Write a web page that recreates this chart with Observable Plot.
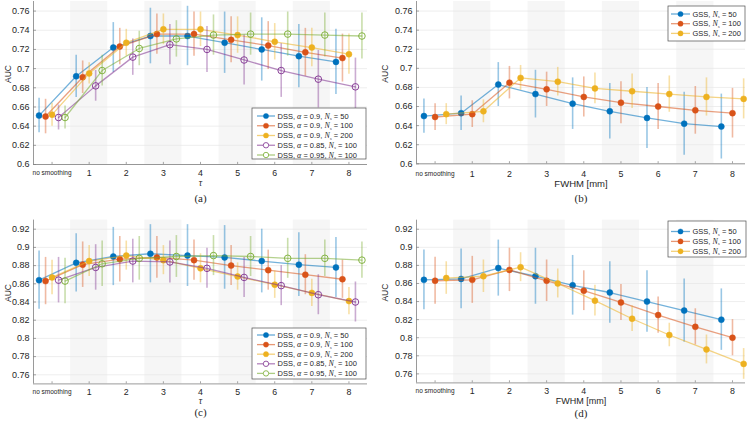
<!DOCTYPE html>
<html>
<head>
<meta charset="utf-8">
<script src="https://cdn.jsdelivr.net/npm/d3@7"></script>
<script src="https://cdn.jsdelivr.net/npm/@observablehq/plot@0.6"></script>
<style>
  body { margin: 0; background: #fff; }
  #fig { position: relative; width: 750px; height: 424px; overflow: hidden; background: #fff; }
</style>
</head>
<body>
<div id="fig"></div>
<script>
// ---------- data ----------
const xTicks = [0, 1, 2, 3, 4, 5, 6, 7, 8];
const xTickLabels = ["no smoothing", "1", "2", "3", "4", "5", "6", "7", "8"];
const shadedTicks = [1, 3, 5, 7];
const yTicksTop = [0.6, 0.62, 0.64, 0.66, 0.68, 0.7, 0.72, 0.74, 0.76];
const yTicksBottom = [0.76, 0.78, 0.8, 0.82, 0.84, 0.86, 0.88, 0.9, 0.92];

const dssAlpha = ["0.9", "0.9", "0.9", "0.85", "0.95"];
const dssN = ["50", "100", "200", "100", "100"];
const gssN = ["50", "100", "200"];

// (a) DSS, top row
const aBlue = [0.651, 0.692, 0.722, 0.734, 0.734, 0.727, 0.720, 0.713, 0.707];
const aBlueErr = [0.018, 0.022, 0.026, 0.029, 0.031, 0.032, 0.033, 0.033, 0.034];
const aRed = [0.650, 0.691, 0.723, 0.736, 0.736, 0.730, 0.724, 0.717, 0.711];
const aRedErr = [0.018, 0.017, 0.019, 0.021, 0.023, 0.024, 0.025, 0.025, 0.025];
const aYellow = [0.652, 0.695, 0.727, 0.741, 0.741, 0.735, 0.728, 0.722, 0.715];
const aYellowErr = [0.012, 0.011, 0.014, 0.016, 0.018, 0.019, 0.019, 0.020, 0.021];
const aPurple = [0.649, 0.682, 0.712, 0.725, 0.720, 0.709, 0.698, 0.689, 0.681];
const aPurpleErr = [0.013, 0.016, 0.019, 0.021, 0.024, 0.026, 0.028, 0.030, 0.030];
const aGreen = [0.649, 0.698, 0.721, 0.731, 0.735, 0.736, 0.736, 0.735, 0.734];
const aGreenErr = [0.012, 0.016, 0.018, 0.019, 0.021, 0.022, 0.023, 0.023, 0.024];

// (b) GSS, top row
const bBlue = [0.650, 0.653, 0.683, 0.673, 0.663, 0.655, 0.648, 0.642, 0.639];
const bBlueErr = [0.018, 0.018, 0.023, 0.025, 0.027, 0.029, 0.032, 0.033, 0.034];
const bRed = [0.649, 0.652, 0.685, 0.678, 0.670, 0.664, 0.660, 0.656, 0.653];
const bRedErr = [0.014, 0.014, 0.017, 0.018, 0.021, 0.022, 0.024, 0.025, 0.026];
const bYellow = [0.652, 0.655, 0.690, 0.686, 0.679, 0.676, 0.673, 0.670, 0.668];
const bYellowErr = [0.011, 0.012, 0.013, 0.015, 0.016, 0.018, 0.019, 0.020, 0.021];

// (c) DSS, bottom row
const cBlue = [0.864, 0.883, 0.890, 0.893, 0.891, 0.889, 0.885, 0.881, 0.878];
const cBlueErr = [0.032, 0.032, 0.032, 0.032, 0.034, 0.035, 0.035, 0.035, 0.033];
const cRed = [0.863, 0.881, 0.887, 0.889, 0.886, 0.880, 0.875, 0.870, 0.865];
const cRedErr = [0.026, 0.025, 0.025, 0.023, 0.022, 0.022, 0.022, 0.022, 0.021];
const cYellow = [0.867, 0.885, 0.891, 0.886, 0.877, 0.868, 0.859, 0.850, 0.841];
const cYellowErr = [0.019, 0.017, 0.016, 0.016, 0.016, 0.015, 0.015, 0.015, 0.015];
const cPurple = [0.864, 0.878, 0.885, 0.884, 0.877, 0.867, 0.858, 0.848, 0.840];
const cPurpleErr = [0.025, 0.025, 0.024, 0.023, 0.022, 0.022, 0.022, 0.022, 0.022];
const cGreen = [0.863, 0.882, 0.888, 0.890, 0.891, 0.890, 0.888, 0.888, 0.886];
const cGreenErr = [0.025, 0.025, 0.024, 0.023, 0.022, 0.022, 0.022, 0.020, 0.020];

// (d) GSS, bottom row
const dBlue = [0.864, 0.865, 0.877, 0.868, 0.858, 0.850, 0.840, 0.830, 0.820];
const dBlueErr = [0.033, 0.033, 0.031, 0.031, 0.033, 0.034, 0.034, 0.035, 0.034];
const dRed = [0.863, 0.864, 0.875, 0.863, 0.852, 0.839, 0.825, 0.812, 0.800];
const dRedErr = [0.026, 0.026, 0.024, 0.023, 0.022, 0.020, 0.020, 0.020, 0.020];
const dYellow = [0.866, 0.868, 0.878, 0.860, 0.841, 0.821, 0.803, 0.787, 0.771];
const dYellowErr = [0.018, 0.018, 0.016, 0.016, 0.017, 0.014, 0.013, 0.016, 0.017];

// ---------- styling ----------
const SANS = "'Liberation Sans', Arial, Helvetica, sans-serif";
const SERIF = "'Liberation Serif', 'Times New Roman', serif";
const palette = ["#0072BD", "#D95319", "#EDB120", "#7E2F8E", "#77AC30"];
const dssOpen = [false, false, false, true, true];
const dssOffsets = [-0.35, -0.175, 0, 0.175, 0.35];
const gssOffsets = [-0.3, 0, 0.3];
const fmt = d => String(+d.toFixed(2));

function dssSeries(vals, errs) {
  return vals.map((v, k) => ({values: v, errs: errs[k], color: palette[k], open: dssOpen[k],
    method: "DSS", alpha: dssAlpha[k], n: dssN[k]}));
}
function gssSeries(vals, errs) {
  return vals.map((v, k) => ({values: v, errs: errs[k], color: palette[k], open: false,
    method: "GSS", alpha: null, n: gssN[k]}));
}

function panel(cfg) {
  const [xmin, xmax] = cfg.xDomain, [ymin, ymax] = cfg.yDomain;
  const rows = cfg.series.flatMap((s, k) => s.values.map((v, i) => ({
    x: xTicks[i] + cfg.offsets[k], y: v, lo: v - s.errs[i], hi: v + s.errs[i], k})));
  const marks = [
    Plot.rect(shadedTicks, {x1: d => d - 0.5, x2: d => d + 0.5, y1: () => ymin, y2: () => ymax, fill: "#f6f6f6"}),
    Plot.ruleY(cfg.yTicks, {y: d => d, x1: () => xmin, x2: () => xmax, stroke: "#e6e6e6", strokeWidth: 0.7}),
    Plot.ruleX(xTicks, {x: d => d, y1: () => ymin, y2: () => ymin + (ymax - ymin) * 0.013, stroke: "#808080", strokeWidth: 0.7}),
    Plot.ruleY(cfg.yTicks, {y: d => d, x1: () => xmin, x2: () => xmin + (xmax - xmin) * 0.009, stroke: "#808080", strokeWidth: 0.7}),
    Plot.ruleX([xmin], {x: d => d, y1: () => ymin, y2: () => ymax, stroke: "#808080", strokeWidth: 0.8}),
    Plot.ruleY([ymin], {y: d => d, x1: () => xmin, x2: () => xmax, stroke: "#808080", strokeWidth: 0.8})
  ];
  cfg.series.forEach((s, k) => {
    const d = rows.filter(r => r.k === k);
    marks.push(
      Plot.ruleX(d, {x: "x", y1: "lo", y2: "hi", stroke: s.color, strokeOpacity: 0.4, strokeWidth: 1.6}),
      Plot.line(d, {x: "x", y: "y", stroke: s.color, strokeOpacity: 0.55, strokeWidth: 1.3}),
      Plot.dot(d, {x: "x", y: "y", r: s.open ? 3.3 : 3, fill: s.open ? "none" : s.color,
        stroke: s.color, strokeWidth: s.open ? 0.9 : 0.5})
    );
  });
  marks.push(
    Plot.text(cfg.yTicks, {x: () => xmin, y: d => d, text: d => fmt(d), textAnchor: "end", dx: -4, fontSize: 9}),
    Plot.text(xTicks.slice(1), {x: d => d, y: () => ymin, text: d => xTickLabels[d], dy: cfg.tickDy, fontSize: 8.8}),
    Plot.text(xTicks.slice(0, 1), {x: d => d, y: () => ymin, text: d => xTickLabels[d], dy: cfg.tickDy, fontSize: 6.5}),
    Plot.text(["AUC"], {frameAnchor: "left", text: d => d, rotate: -90, dx: cfg.aucDx, fontSize: 8.5}),
    Plot.text([cfg.xLabel], {frameAnchor: "bottom", text: d => d, dy: cfg.xLabelDy,
      fontSize: cfg.xLabelSize, fontStyle: cfg.xLabelItalic ? "italic" : "normal",
      fontFamily: cfg.xLabelItalic ? SERIF : SANS}),
    Plot.text([cfg.tag], {frameAnchor: "bottom", text: d => d, dy: cfg.tagDy, fontSize: 11, fontFamily: SERIF})
  );
  const svg = Plot.plot({
    width: cfg.width, height: cfg.height,
    marginLeft: cfg.mL, marginRight: cfg.mR, marginTop: cfg.mT, marginBottom: cfg.mB,
    x: {domain: cfg.xDomain, axis: null},
    y: {domain: cfg.yDomain, axis: null},
    style: {fontFamily: SANS, color: "#262626", background: "transparent", overflow: "visible"},
    marks
  });
  svg.style.position = "absolute";
  svg.style.left = cfg.left + "px";
  svg.style.top = cfg.top + "px";
  svg.style.maxWidth = "none";
  legend(svg, cfg.legend, cfg.series);
  document.getElementById("fig").appendChild(svg);
}

function legend(svg, L, entries) {
  const g = d3.select(svg).append("g").attr("font-family", SANS).attr("font-size", 7.5)
    .attr("fill", "#262626").attr("text-anchor", "start");
  g.append("rect").attr("x", L.x).attr("y", L.y).attr("width", L.w).attr("height", L.h)
    .attr("fill", "#fff").attr("stroke", "#4d4d4d").attr("stroke-width", 0.7);
  entries.forEach((e, k) => {
    const y = L.y0 + k * L.dy;
    g.append("line").attr("x1", L.lx1).attr("x2", L.lx2).attr("y1", y).attr("y2", y)
      .attr("stroke", e.color).attr("stroke-opacity", 0.6).attr("stroke-width", 1.3);
    g.append("circle").attr("cx", (L.lx1 + L.lx2) / 2).attr("cy", y).attr("r", e.open ? 2.7 : 2.6)
      .attr("fill", e.open ? "#fff" : e.color).attr("stroke", e.color).attr("stroke-width", e.open ? 0.8 : 0.4);
    const t = g.append("text").attr("x", L.tx).attr("y", y + 2.6).attr("text-anchor", "start");
    t.append("tspan").text(e.method + ", ");
    if (e.alpha) {
      t.append("tspan").attr("font-family", SERIF).attr("font-style", "italic").attr("font-size", 8).text("α");
      t.append("tspan").text(" = " + e.alpha + ", ");
    }
    t.append("tspan").attr("font-family", SERIF).attr("font-style", "italic").attr("font-size", 8).text("N");
    t.append("tspan").attr("font-family", SERIF).attr("font-style", "italic").attr("font-size", 5)
      .attr("dy", 1.4).text("s");
    t.append("tspan").attr("dy", -1.4).text(" = " + e.n);
  });
}

panel({
  left: 0, top: 0, width: 375, height: 212, mL: 33, mR: 8, mT: 1, mB: 48,
  xDomain: [-0.5, 8.5], yDomain: [0.6, 0.77], yTicks: yTicksTop,
  series: dssSeries([aBlue, aRed, aYellow, aPurple, aGreen], [aBlueErr, aRedErr, aYellowErr, aPurpleErr, aGreenErr]),
  offsets: dssOffsets, tickDy: 8.5, aucDx: -25, xLabel: "τ", xLabelItalic: true, xLabelSize: 9.5, xLabelDy: 21, tag: "(a)", tagDy: 37,
  legend: {x: 252, y: 108, w: 114, h: 51, y0: 116, dy: 9.75, lx1: 257, lx2: 275, tx: 277.5}
});
panel({
  left: 375, top: 0, width: 375, height: 212, mL: 41, mR: 5, mT: 1, mB: 48.7,
  xDomain: [-0.5, 8.35], yDomain: [0.6, 0.77], yTicks: yTicksTop,
  series: gssSeries([bBlue, bRed, bYellow], [bBlueErr, bRedErr, bYellowErr]),
  offsets: gssOffsets, tickDy: 10.5, aucDx: -31, xLabel: "FWHM [mm]", xLabelItalic: false, xLabelSize: 9.5, xLabelDy: 23.5, tag: "(b)", tagDy: 38,
  legend: {x: 293, y: 6, w: 77, h: 35, y0: 14, dy: 9.7, lx1: 296, lx2: 315, tx: 317.5}
});
panel({
  left: 0, top: 212, width: 375, height: 212, mL: 33, mR: 8, mT: 7.6, mB: 40.6,
  xDomain: [-0.5, 8.5], yDomain: [0.75, 0.93], yTicks: yTicksBottom,
  series: dssSeries([cBlue, cRed, cYellow, cPurple, cGreen], [cBlueErr, cRedErr, cYellowErr, cPurpleErr, cGreenErr]),
  offsets: dssOffsets, tickDy: 8.5, aucDx: -25, xLabel: "τ", xLabelItalic: true, xLabelSize: 9.5, xLabelDy: 20.5, tag: "(c)", tagDy: 32,
  legend: {x: 252, y: 116, w: 114, h: 51, y0: 123, dy: 9.6, lx1: 257, lx2: 275, tx: 277.5}
});
panel({
  left: 375, top: 212, width: 375, height: 212, mL: 41, mR: 5, mT: 7.7, mB: 41.6,
  xDomain: [-0.5, 8.35], yDomain: [0.75, 0.93], yTicks: yTicksBottom,
  series: gssSeries([dBlue, dRed, dYellow], [dBlueErr, dRedErr, dYellowErr]),
  offsets: gssOffsets, tickDy: 8.5, aucDx: -31, xLabel: "FWHM [mm]", xLabelItalic: false, xLabelSize: 9, xLabelDy: 21.5, tag: "(d)", tagDy: 34,
  legend: {x: 293, y: 9, w: 78, h: 36, y0: 19.5, dy: 9.9, lx1: 296, lx2: 315, tx: 317.5}
});
</script>
</body>
</html>
